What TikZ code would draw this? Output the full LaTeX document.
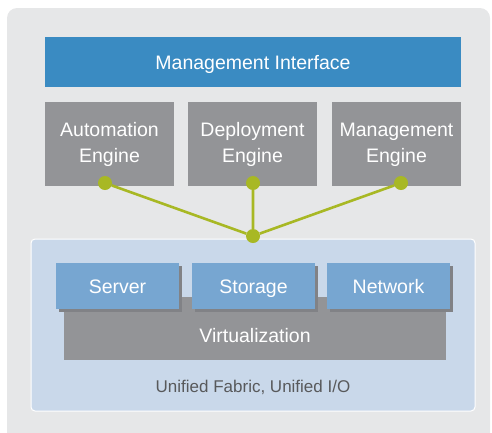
\documentclass[tikz,border=0pt]{standalone}
\usepackage{fontspec}
\setmainfont{Liberation Sans}
\usetikzlibrary{positioning,shadows}
\definecolor{bggray}{HTML}{E6E7E8}
\definecolor{mgmtblue}{HTML}{3A8BC2}
\definecolor{enginegray}{HTML}{939497}
\definecolor{fabricblue}{HTML}{C9D8EA}
\definecolor{resblue}{HTML}{77A6D1}
\definecolor{shadegray}{HTML}{818286}
\definecolor{linkgreen}{HTML}{A8B824}
\definecolor{labelgray}{HTML}{58595B}

\begin{document}
\begin{tikzpicture}[x=1pt, y=-1pt,
    boxtext/.style={text=white, font=\fontsize{19.5}{26}\selectfont, align=center, inner sep=0pt,
        text height=17pt, text depth=3pt},
    engine/.style={boxtext, fill=enginegray, minimum width=129, minimum height=84, text height=40pt},
    resource/.style={boxtext, fill=resblue, minimum width=123, minimum height=46,
        drop shadow={shadow xshift=2.5pt, shadow yshift=-2.5pt, fill=shadegray, opacity=1}},
    dot/.style={circle, fill=linkgreen, inner sep=0pt, minimum size=14},
    link/.style={draw=linkgreen, line width=2.6pt}]
                                \clip (0, 0) rectangle (492, 432);
                                \fill[bggray, rounded corners=10pt] (7, 8) rectangle (490, 450);
                                \node[boxtext, fill=mgmtblue, minimum width=416, minimum height=50] (mgmt) at (253, 62) {Management Interface};
                                \node[engine] (auto) at (109.5, 144) {Automation\\Engine};
                                \node[engine] (deploy) at (252.5, 144) {Deployment\\Engine};
                                \node[engine] (mgeng) at (396.5, 144) {Management\\Engine};
                                \node[draw=white, line width=1pt, fill=fabricblue, rounded corners=4pt,
                                    minimum width=444, minimum height=172] (fabric) at (253, 325) {};
                                \node[text=labelgray, font=\fontsize{17}{20}\selectfont] (fabtxt) at (253, 387) {Unified Fabric, Unified I/O};
                                \node[boxtext, fill=enginegray, minimum width=382, minimum height=63, text height=28pt, text depth=0pt] (virt) at (255, 328.5) {Virtualization};
                                \node[resource] (server) at (117.5, 286) {Server};
                                \node[resource] (storage) at (253.5, 286) {Storage};
                                \node[resource] (network) at (388.5, 286) {Network};
                                \node[dot] (autodot) at (105, 183) {};
                                \node[dot] (deploydot) at (253, 183) {};
                                \node[dot] (mgengdot) at (401, 183) {};
                                \node[dot] (hub) at (253, 236) {};
                                \draw[link]
                                (autodot) -- (hub)
                                (deploydot) -- (hub)
                                (mgengdot) -- (hub);
                            \end{tikzpicture}
\end{document}
